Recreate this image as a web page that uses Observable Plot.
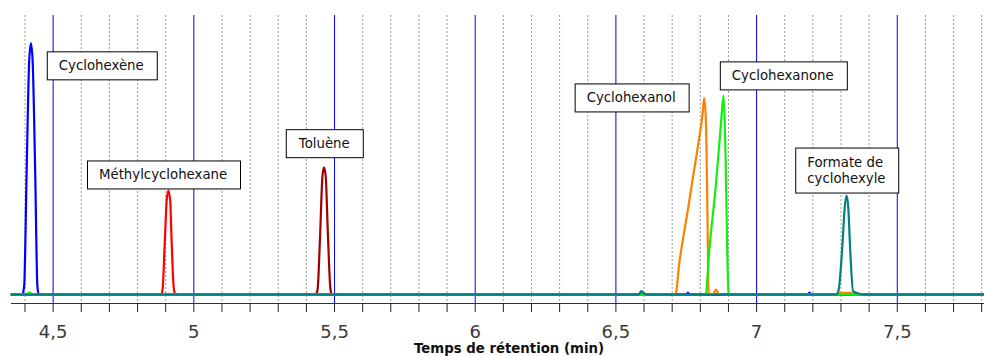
<!DOCTYPE html>
<html><head><meta charset="utf-8">
<script src="https://cdn.jsdelivr.net/npm/d3@7"></script>
<script src="https://cdn.jsdelivr.net/npm/@observablehq/plot@0.6"></script>
<style>body{margin:0;background:#fff} svg{display:block}</style>
</head><body><div id="chart"></div>
<script>
// Compounds and trace colours
const compounds = ["Cyclohexène", "Méthylcyclohexane", "Toluène", "Cyclohexanol", "Cyclohexanone", "Formate de cyclohexyle"];
const colors = ["#0000ff", "#ff0000", "#a00000", "#ff8000", "#11ee11", "#008080"];

// Retention time (min) and signal (a.u.)
const cyclohexeneT = [4.352, 4.390, 4.397, 4.406, 4.415, 4.421, 4.427, 4.436, 4.444, 4.449, 6.750, 6.756, 6.762, 7.182, 7.188, 7.194, 7.81];
const cyclohexeneI = [0, 0, 3, 45, 84, 90, 84, 45, 3, 0, 0, 0.7, 0, 0, 0.7, 0, 0];

const methylT = [4.352, 4.884, 4.889, 4.897, 4.9035, 4.9095, 4.916, 4.921, 4.929, 4.935, 7.81];
const methylI = [0, 0, 2, 19.4, 33.7, 37.3, 33.7, 19.4, 2, 0, 0];

const tolueneT = [4.352, 5.434, 5.440, 5.4485, 5.457, 5.4627, 5.4687, 5.4769, 5.4854, 5.491, 7.81];
const tolueneI = [0, 0, 2, 20.5, 42.3, 45.6, 42.3, 20.5, 2, 0, 0];

const cyclohexanolT = [4.352, 6.706, 6.713, 6.725, 6.7368, 6.7521, 6.7723, 6.7958, 6.8079, 6.8136, 6.8196, 6.8256, 6.8292, 6.835, 6.846, 6.8555, 6.865, 6.873, 7.288, 7.298, 7.335, 7.345, 7.81];
const cyclohexanolI = [0, 0, 0.5, 11, 19, 28, 41, 56, 64.5, 70.4, 63.0, 27.2, 0.8, 0, 0.3, 1.8, 0.3, 0, 0, 0.6, 0.6, 0, 0];

const cyclohexanoneT = [4.352, 4.405, 4.415, 4.426, 6.816, 6.8196, 6.8313, 6.8552, 6.8729, 6.8825, 6.888, 6.9003, 6.905, 7.81];
const cyclohexanoneI = [0, 0, 0.8, 0, 0, 0.25, 15.2, 39.1, 60.6, 71.3, 57.0, 0.8, 0, 0];

const formateT = [4.352, 6.580, 6.591, 6.600, 6.610, 7.283, 7.2913, 7.3056, 7.313, 7.3198, 7.326, 7.3315, 7.3432, 7.360, 7.378, 7.81];
const formateI = [0, 0, 1.2, 0.4, 0, 0, 1.5, 18.7, 31, 35.5, 31, 18.7, 1.1, 0.5, 0, 0];

// Peak labels: text, left edge (min), vertical centre (a.u.)
const labelTexts = ["Cyclohexène", "Méthylcyclohexane", "Toluène", "Cyclohexanol", "Cyclohexanone", "Formate de\ncyclohexyle"];
const labelT = [4.520, 4.663, 5.373, 6.396, 6.912, 7.180];
const labelI = [82.5, 43.4, 54.6, 71.0, 78.9, 44.8];

// Axis ticks
const majorTicks = [4.5, 5, 5.5, 6, 6.5, 7, 7.5];
const majorLabels = ["4,5", "5", "5,5", "6", "6,5", "7", "7,5"];
const minorTicks = [4.4, 4.6, 4.7, 4.8, 4.9, 5.1, 5.2, 5.3, 5.4, 5.6, 5.7, 5.8, 5.9, 6.1, 6.2, 6.3, 6.4, 6.6, 6.7, 6.8, 6.9, 7.1, 7.2, 7.3, 7.4, 7.6, 7.7, 7.8];
const xDomain = [4.352, 7.81];
const yDomain = [-3.2, 100];
const xTitle = "Temps de rétention (min)";

const seriesT = [cyclohexeneT, methylT, tolueneT, cyclohexanolT, cyclohexanoneT, formateT];
const seriesI = [cyclohexeneI, methylI, tolueneI, cyclohexanolI, cyclohexanoneI, formateI];
const rows = compounds.flatMap((c, k) => seriesT[k].map((t, j) => ({compound: c, t, v: seriesI[k][j]})));
const labels = labelTexts.map((text, i) => ({text, t: labelT[i], v: labelI[i]}));
const labelMap = new Map(majorTicks.map((t, i) => [t, majorLabels[i]]));

const chart = Plot.plot({
  width: 984,
  height: 356,
  marginLeft: 11,
  marginRight: 0,
  marginTop: 15,
  marginBottom: 53,
  style: {fontFamily: "DejaVu Sans", background: "#fff"},
  x: {domain: xDomain},
  y: {domain: yDomain, axis: null},
  color: {domain: compounds, range: colors},
  marks: [
    Plot.ruleX(minorTicks, {stroke: "#9a9a9a", strokeWidth: 1, strokeDasharray: "2,2"}),
    Plot.ruleX(majorTicks, {stroke: "#0000ff", strokeWidth: 1}),
    Plot.ruleY([yDomain[0]], {stroke: "#333", strokeWidth: 1}),
    Plot.axisX(minorTicks, {tickSize: 9, tickFormat: () => "", label: null, stroke: "#222"}),
    Plot.axisX(majorTicks, {tickSize: 9, tickPadding: 13, tickFormat: d => labelMap.get(d), label: null, fontSize: 18, stroke: "#222", fill: "#3a3a3a"}),
    Plot.line(rows, {x: "t", y: "v", z: "compound", stroke: "compound", strokeWidth: 2.2, curve: "monotone-x"}),
    Plot.text(labels, {x: "t", y: "v", text: "text", textAnchor: "start", lineAnchor: "middle", lineHeight: 1.25, fontSize: 13.3, fill: "#111", ariaDescription: "peak-labels"}),
    Plot.text([xTitle], {frameAnchor: "bottom", lineAnchor: "middle", dy: 45, dx: 11, fontWeight: "bold", fontSize: 13.3, fill: "#111", ariaDescription: "x-title"})
  ]
});
document.getElementById("chart").appendChild(chart);

// Draw boxes behind the peak labels
const svgNS = "http://www.w3.org/2000/svg";
let group = chart.querySelector('g[aria-description="peak-labels"]');
if (!group) group = chart.querySelectorAll('g[aria-label="text"]')[0];
group.querySelectorAll("text").forEach(t => {
  const b = t.getBBox();
  const r = document.createElementNS(svgNS, "rect");
  r.setAttribute("x", Math.round(b.x - 12.5) + 0.5);
  r.setAttribute("y", Math.round(b.y - 6.6) + 0.5);
  r.setAttribute("width", Math.round(b.width + 25));
  r.setAttribute("height", Math.round(b.height + 13.2));
  r.setAttribute("fill", "#fff");
  r.setAttribute("stroke", "#000");
  r.setAttribute("stroke-width", "1");
  if (t.getAttribute("transform")) r.setAttribute("transform", t.getAttribute("transform"));
  t.parentNode.insertBefore(r, t);
});
</script>
</body></html>
